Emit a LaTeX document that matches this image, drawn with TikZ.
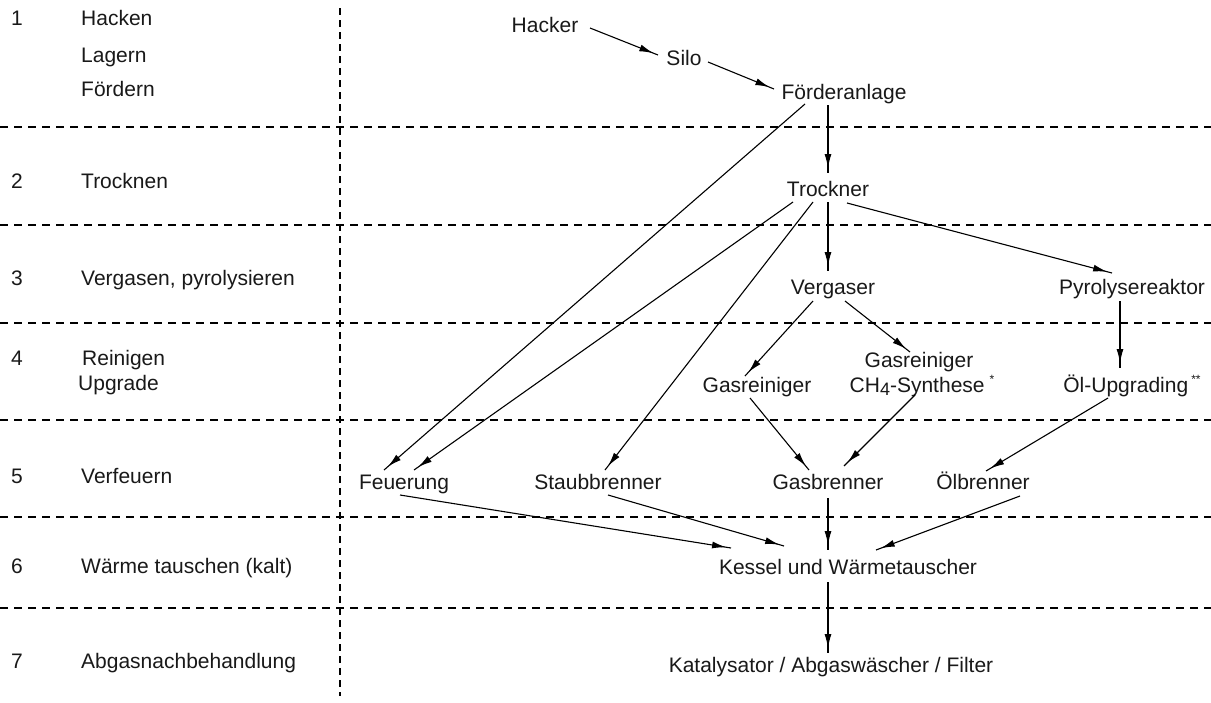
\documentclass[tikz,border=0pt]{standalone}
\usepackage{fontspec}
\setmainfont{Liberation Sans}
\usetikzlibrary{arrows.meta,decorations.markings}

\begin{document}
\begin{tikzpicture}[x=1pt,y=-1pt,
  lbl/.style={anchor=base, inner sep=0pt, font=\fontsize{21}{25}\selectfont, text=black!90},
  side/.style={lbl, anchor=base west},
  sep/.style={line width=1.3pt, dash pattern=on 8pt off 6pt},
  vsep/.style={line width=1.3pt, dash pattern=on 7pt off 5pt},
  arr/.style={line width=1.1pt, postaction={decorate},
    decoration={markings, mark=at position -5pt with {\arrow{Latex[length=14pt,width=7pt]}}}},
]
\fill[white] (0,0) rectangle (1211,702);
\useasboundingbox (0,0) rectangle (1211,702);

% stage separators
\foreach \yy in {127,225,323,420,517,608}
  \draw[sep] (0,\yy) -- (1211,\yy);
\draw[vsep] (340,8) -- (340,696);

% stage column
\node[side] (n1) at (11,25) {1};
\node[side] (s1a) at (81,25) {Hacken};
\node[side] (s1b) at (81,62) {Lagern};
\node[side] (s1c) at (81,96) {Fördern};
\node[side] (n2) at (11,188) {2};
\node[side] (s2) at (81,188) {Trocknen};
\node[side] (n3) at (11,285) {3};
\node[side] (s3) at (81,285) {Vergasen, pyrolysieren};
\node[side] (n4) at (11,365) {4};
\node[side] (s4a) at (82,365) {Reinigen};
\node[side] (s4b) at (78,390) {Upgrade};
\node[side] (n5) at (11,483) {5};
\node[side] (s5) at (81,483) {Verfeuern};
\node[side] (n6) at (11,573) {6};
\node[side] (s6) at (81,573) {Wärme tauschen (kalt)};
\node[side] (n7) at (11,668) {7};
\node[side] (s7) at (81,668) {Abgasnachbehandlung};

% process components
\node[lbl] (hacker)   at (545,32)  {Hacker};
\node[lbl] (silo)     at (684,65)  {Silo};
\node[lbl] (foerder)  at (844,99)  {Förderanlage};
\node[lbl] (trockner) at (828,196) {Trockner};
\node[lbl] (vergaser) at (833,294) {Vergaser};
\node[lbl] (pyro)     at (1132,294) {Pyrolysereaktor};
\node[lbl] (gasrein)  at (757,392) {Gasreiniger};
\node[lbl] (gasreinb) at (919,367) {Gasreiniger};
\node[lbl] (ch4)      at (922,392) {CH\raisebox{-3pt}{\fontsize{18}{18}\selectfont 4}-Synthese\hspace{5pt}\raisebox{9pt}{\fontsize{12}{12}\selectfont *}};
\node[lbl] (oel)      at (1132,392) {Öl-Upgrading\hspace{3pt}\raisebox{9pt}{\fontsize{12}{12}\selectfont **}};
\node[lbl] (feuerung) at (404,489) {Feuerung};
\node[lbl] (staub)    at (598,489) {Staubbrenner};
\node[lbl] (gasbr)    at (828,489) {Gasbrenner};
\node[lbl] (oelbr)    at (983,489) {Ölbrenner};
\node[lbl] (kessel)   at (848,574) {Kessel und Wärmetauscher};
\node[lbl] (kat)      at (831,672) {Katalysator / Abgaswäscher / Filter};

% material and energy flow
\draw[arr] ([xshift=45pt,yshift=4pt]hacker.base) -- ([xshift=-26pt,yshift=10pt]silo.base);
\draw[arr] ([xshift=24pt,yshift=3pt]silo.base) -- ([xshift=-70pt,yshift=10pt]foerder.base);
\draw[arr] ([xshift=-16pt,yshift=-6pt]foerder.base) -- ([yshift=23pt]trockner.base);
\draw[arr] ([xshift=-39pt,yshift=-5pt]foerder.base) -- ([xshift=-20pt,yshift=19pt]feuerung.base);
\draw[arr] ([xshift=-35pt,yshift=-6pt]trockner.base) -- ([xshift=10pt,yshift=19pt]feuerung.base);
\draw[arr] ([xshift=-15pt,yshift=-6pt]trockner.base) -- ([xshift=7pt,yshift=19pt]staub.base);
\draw[arr] ([yshift=-6pt]trockner.base) -- ([xshift=-5pt,yshift=23pt]vergaser.base);
\draw[arr] ([xshift=19pt,yshift=-7pt]trockner.base) -- ([xshift=-20pt,yshift=21pt]pyro.base);
\draw[arr] ([xshift=-20pt,yshift=-7pt]vergaser.base) -- ([xshift=-12pt,yshift=16pt]gasrein.base);
\draw[arr] ([xshift=12pt,yshift=-7pt]vergaser.base) -- ([xshift=-9pt,yshift=15pt]gasreinb.base);
\draw[arr] ([xshift=-12pt,yshift=-7pt]pyro.base) -- ([xshift=-12pt,yshift=24pt]oel.base);
\draw[arr] ([xshift=-7pt,yshift=-6pt]gasrein.base) -- ([xshift=-19pt,yshift=19pt]gasbr.base);
\draw[arr] ([xshift=-7pt,yshift=-3pt]ch4.base) -- ([xshift=16pt,yshift=23pt]gasbr.base);
\draw[arr] ([xshift=-24pt,yshift=-6pt]oel.base) -- ([xshift=3pt,yshift=18pt]oelbr.base);
\draw[arr] ([xshift=-4pt,yshift=-6pt]feuerung.base) -- ([xshift=-117pt,yshift=26pt]kessel.base);
\draw[arr] ([xshift=10pt,yshift=-6pt]staub.base) -- ([xshift=-64pt,yshift=28pt]kessel.base);
\draw[arr] ([yshift=-9pt]gasbr.base) -- ([xshift=-20pt,yshift=24pt]kessel.base);
\draw[arr] ([xshift=37pt,yshift=-7pt]oelbr.base) -- ([xshift=28pt,yshift=24pt]kessel.base);
\draw[arr] ([xshift=-20pt,yshift=-8pt]kessel.base) -- ([xshift=-3pt,yshift=19pt]kat.base);
\end{tikzpicture}
\end{document}
